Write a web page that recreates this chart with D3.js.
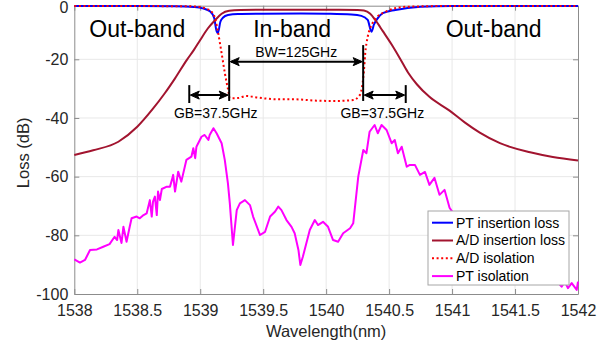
<!DOCTYPE html>
<html>
<head>
<meta charset="utf-8">
<script src="https://cdn.jsdelivr.net/npm/d3@7"></script>
<style>
  body { margin: 0; background: #fff; }
  svg { display: block; font-family: "Liberation Sans", Arial, sans-serif; }
</style>
</head>
<body>
<svg width="610" height="348"></svg>
<script>
const wavelengthTicks = [1538, 1538.5, 1539, 1539.5, 1540, 1540.5, 1541, 1541.5, 1542];
const lossTicks = [-100, -80, -60, -40, -20, 0];

// PT insertion loss
const ptInsWl = [1538.0, 1538.5, 1538.8, 1538.95, 1539.02, 1539.08, 1539.11, 1539.13, 1539.14, 1539.16,
  1539.18, 1539.22, 1539.3, 1539.5, 1539.8, 1540.0, 1540.2, 1540.28, 1540.33, 1540.36,
  1540.38, 1540.40, 1540.45, 1540.55, 1540.75, 1541.0, 1542.0];
const ptInsLoss = [-0.1, -0.1, -0.2, -0.5, -1.0, -2.2, -4.5, -9.5, -10.2, -6.0,
  -4.5, -3.5, -3.1, -3.0, -2.9, -3.0, -3.3, -3.8, -5.3, -9.7,
  -7.0, -5.3, -2.8, -1.6, -0.4, -0.1, -0.1];

// A/D insertion loss
const adInsWl = [1538.0, 1538.15, 1538.35, 1538.5, 1538.62, 1538.72, 1538.8, 1538.894, 1538.95, 1539.0,
  1539.06, 1539.12, 1539.17, 1539.23, 1539.32, 1539.5, 1539.8, 1540.1, 1540.25, 1540.3,
  1540.35, 1540.39, 1540.45, 1540.52, 1540.585, 1540.65, 1540.72, 1540.82, 1540.98, 1541.1,
  1541.22, 1541.38, 1541.62, 1541.8, 1542.0];
const adInsLoss = [-52.6, -51.0, -48.1, -43.0, -37.1, -31.5, -26.5, -20.2, -16.5, -12.8,
  -8.5, -5.3, -3.0, -1.9, -1.6, -1.5, -1.5, -1.5, -1.6, -1.8,
  -3.0, -5.3, -9.5, -14.5, -19.6, -24.5, -28.5, -32.8, -37.5, -41.5,
  -45.0, -48.6, -51.7, -53.3, -54.5];

// A/D isolation
const adIsoWl = [1538.0, 1538.9, 1539.0, 1539.05, 1539.09, 1539.12, 1539.143, 1539.17, 1539.196, 1539.222,
  1539.236, 1539.30, 1539.368, 1539.448, 1539.606, 1539.736, 1539.924, 1540.083, 1540.214, 1540.267,
  1540.29, 1540.30, 1540.31, 1540.33, 1540.355, 1540.395, 1540.475, 1540.635, 1541.0, 1542.0];
const adIsoLoss = [-0.1, -0.2, -0.5, -1.2, -2.2, -5.0, -10.3, -17.8, -24.8, -30.5,
  -33.3, -33.2, -32.5, -33.0, -33.6, -33.6, -34.1, -34.2, -33.9, -32.2,
  -28.0, -24.0, -18.0, -11.6, -7.8, -4.7, -2.2, -0.4, -0.1, -0.1];

// PT isolation
const ptIsoWl = [1538.00, 1538.045, 1538.085, 1538.125, 1538.18, 1538.23, 1538.28, 1538.32, 1538.34, 1538.35,
  1538.375, 1538.39, 1538.415, 1538.44, 1538.455, 1538.495, 1538.52, 1538.55, 1538.575, 1538.60,
  1538.615, 1538.625, 1538.64, 1538.655, 1538.665, 1538.68, 1538.695, 1538.735, 1538.76, 1538.775,
  1538.785, 1538.80, 1538.825, 1538.85, 1538.89, 1538.93, 1538.945, 1538.96, 1538.97, 1539.01,
  1539.035, 1539.065, 1539.075, 1539.105, 1539.13, 1539.17, 1539.195, 1539.22, 1539.235, 1539.26,
  1539.29, 1539.315, 1539.355, 1539.395, 1539.42, 1539.475, 1539.515, 1539.555, 1539.595, 1539.62,
  1539.645, 1539.685, 1539.725, 1539.75, 1539.78, 1539.795, 1539.815, 1539.87, 1539.91, 1539.935,
  1539.975, 1540.015, 1540.055, 1540.095, 1540.135, 1540.19, 1540.215, 1540.255, 1540.295, 1540.32,
  1540.345, 1540.385, 1540.41, 1540.44, 1540.48, 1540.52, 1540.545, 1540.57, 1540.60, 1540.64,
  1540.665, 1540.705, 1540.745, 1540.785, 1540.82, 1540.86, 1540.90, 1540.94, 1540.98, 1541.02,
  1541.1, 1541.2, 1541.3, 1541.4, 1541.5, 1541.6, 1541.7, 1541.8, 1541.85, 1541.87,
  1541.895, 1541.92, 1541.95, 1541.99, 1542.0];
const ptIsoLoss = [-88.2, -89.3, -88.4, -85.0, -84.8, -83.9, -83.0, -80.5, -81.6, -78.2,
  -82.6, -77.1, -82.2, -77.1, -74.2, -73.6, -74.2, -73.1, -72.5, -68.0,
  -73.6, -68.5, -66.8, -73.1, -65.1, -68.0, -64.2, -63.4, -63.4, -61.1,
  -59.4, -65.1, -58.3, -61.7, -54.3, -53.2, -50.3, -53.7, -49.8, -46.4,
  -45.8, -47.5, -45.8, -43.5, -45.2, -48.6, -54.3, -62.3, -69.1, -83.3,
  -71.4, -69.1, -68.0, -69.7, -73.6, -79.9, -78.8, -73.6, -71.9, -70.2,
  -71.4, -74.8, -77.1, -79.3, -85.0, -90.1, -87.3, -78.2, -74.8, -76.5,
  -75.4, -77.1, -81.6, -82.2, -79.3, -77.6, -75.9, -60.0, -50.9, -52.0,
  -44.7, -42.4, -45.2, -42.4, -44.1, -48.6, -47.5, -52.0, -49.8, -56.6,
  -56.0, -56.0, -59.4, -58.4, -62.8, -60.4, -66.2, -64.5, -70.6, -73.1,
  -76.0, -80.0, -82.0, -85.0, -88.0, -90.0, -93.0, -95.0, -96.5, -97.5,
  -95.8, -98.0, -96.3, -98.6, -95.8];

const seriesNames = ['PT insertion loss', 'A/D insertion loss', 'A/D isolation', 'PT isolation'];

// annotations (wavelength, loss)
const bandNames = ['Out-band', 'In-band', 'Out-band'];
const bandWl = [1538.5, 1539.73, 1541.33];
const bandLoss = -11.7;
const bwText = 'BW=125GHz';
const bwEdges = [1539.23, 1540.294];
const gbText = 'GB=37.5GHz';
const gbOuter = [1538.913, 1540.632];

(function(d3) {
  'use strict';

  const svg = d3.select('svg');
  const left = 74.3, right = 578, top = 5.7, bottom = 294;

  const x = d3.scaleLinear().domain([1538, 1542]).range([left, right]);
  // axis in the figure is slightly stretched below -20 dB
  const y = d3.scaleLinear().domain([-100, -20, 0]).range([bottom, 59.3, top]);

  const axisColor = '#8c8c8c';
  const textColor = '#262626';

  // grid
  const grid = svg.append('g').attr('class', 'grid');
  grid.selectAll('.gx').data(wavelengthTicks.slice(1, -1)).enter().append('line')
      .attr('x1', d => x(d)).attr('x2', d => x(d))
      .attr('y1', top).attr('y2', bottom)
      .attr('stroke', '#e8e8e8');
  grid.selectAll('.gy').data(lossTicks.slice(1, -1)).enter().append('line')
      .attr('y1', d => y(d)).attr('y2', d => y(d))
      .attr('x1', left).attr('x2', right)
      .attr('stroke', '#e8e8e8');

  const styleAxis = g => {
      g.select('.domain').attr('stroke', axisColor);
      g.selectAll('.tick line').attr('stroke', axisColor);
      g.selectAll('.tick text').attr('fill', textColor).style('font-size', '16px');
  };

  svg.append('g')
      .attr('transform', `translate(0,${bottom})`)
      .call(d3.axisBottom(x).tickValues(wavelengthTicks).tickFormat(d => String(d))
          .tickSizeInner(-5).tickSizeOuter(0).tickPadding(11))
      .call(styleAxis);
  svg.append('g')
      .attr('transform', `translate(0,${top})`)
      .call(d3.axisTop(x).tickValues(wavelengthTicks).tickFormat('')
          .tickSizeInner(-5).tickSizeOuter(0))
      .call(styleAxis);
  svg.append('g')
      .attr('transform', `translate(${left},0)`)
      .call(d3.axisLeft(y).tickValues(lossTicks).tickFormat(d => String(d))
          .tickSizeInner(-5).tickSizeOuter(0).tickPadding(6))
      .call(styleAxis)
      .selectAll('.tick text')
      .filter(d => d === 0)
      .attr('dy', '0.42em');
  svg.append('g')
      .attr('transform', `translate(${right},0)`)
      .call(d3.axisRight(y).tickValues(lossTicks).tickFormat('')
          .tickSizeInner(-5).tickSizeOuter(0))
      .call(styleAxis);
  svg.selectAll('.domain').attr('fill', 'none');

  // axis labels
  svg.append('text')
      .attr('x', (left + right) / 2).attr('y', 337)
      .attr('text-anchor', 'middle')
      .attr('fill', textColor)
      .style('font-size', '16.5px')
      .text('Wavelength(nm)');
  svg.append('text')
      .attr('transform', `translate(29,${(top + bottom) / 2 + 3}) rotate(-90)`)
      .attr('text-anchor', 'middle')
      .attr('fill', textColor)
      .style('font-size', '16.5px')
      .text('Loss (dB)');

  // curves
  const zip = (wl, loss) => wl.map((w, i) => [w, loss[i]]);
  const smooth = d3.line().x(d => x(d[0])).y(d => y(d[1])).curve(d3.curveMonotoneX);
  const rough = d3.line().x(d => x(d[0])).y(d => y(d[1]));

  const series = [
      { data: zip(ptInsWl, ptInsLoss), color: '#0000ff', dash: null, line: smooth },
      { data: zip(adInsWl, adInsLoss), color: '#a2142f', dash: null, line: smooth },
      { data: zip(adIsoWl, adIsoLoss), color: '#ff0000', dash: '2,2.6', line: smooth },
      { data: zip(ptIsoWl, ptIsoLoss), color: '#ff00ff', dash: null, line: rough }
  ];

  svg.append('g').selectAll('path').data(series).enter().append('path')
      .attr('d', d => d.line(d.data))
      .attr('fill', 'none')
      .attr('stroke', d => d.color)
      .attr('stroke-width', 2)
      .attr('stroke-dasharray', d => d.dash)
      .attr('stroke-linejoin', 'round');

  // band labels
  svg.append('g').selectAll('text').data(bandNames).enter().append('text')
      .attr('x', (d, i) => x(bandWl[i]))
      .attr('y', y(bandLoss))
      .attr('text-anchor', 'middle')
      .attr('fill', '#000')
      .style('font-size', '23px')
      .text(d => d);

  // arrows
  const ann = svg.append('g').attr('stroke', '#000').attr('stroke-width', 2);
  const head = (px, py, dir) => {
      ann.append('path')
          .attr('d', `M${px},${py} l${-9 * dir},-4 l${2 * dir},4 l${-2 * dir},4 z`)
          .attr('fill', '#000').attr('stroke-width', 1);
  };
  const dblArrow = (w1, w2, loss) => {
      const a = x(w1), b = x(w2), yy = y(loss);
      ann.append('line').attr('x1', a + 2).attr('x2', b - 2).attr('y1', yy).attr('y2', yy);
      head(a + 1, yy, -1);
      head(b - 1, yy, 1);
  };
  const vbar = (w, l1, l2) => {
      ann.append('line')
          .attr('x1', x(w)).attr('x2', x(w))
          .attr('y1', y(l1)).attr('y2', y(l2));
  };

  bwEdges.forEach(w => vbar(w, -14.7, -34.2));
  gbOuter.forEach(w => vbar(w, -28.8, -34.9));
  dblArrow(bwEdges[0], bwEdges[1], -20.8);
  dblArrow(gbOuter[0], bwEdges[0], -32.2);
  dblArrow(bwEdges[1], gbOuter[1], -32.2);

  svg.append('text')
      .attr('x', x(d3.mean(bwEdges))).attr('y', y(-19.0))
      .attr('text-anchor', 'middle')
      .style('font-size', '14px')
      .text(bwText);
  svg.append('g').selectAll('text').data([1539.123, 1540.446]).enter().append('text')
      .attr('x', d => x(d)).attr('y', y(-40.1))
      .attr('text-anchor', 'middle')
      .style('font-size', '14px')
      .text(gbText);

  // legend
  const lw = 141, lh = 74;
  const lx = right - 9 - lw, ly = bottom - 9 - lh;
  const legend = svg.append('g').attr('transform', `translate(${lx},${ly})`);
  legend.append('rect')
      .attr('width', lw).attr('height', lh)
      .attr('fill', '#fff')
      .attr('stroke', '#a6a6a6');
  const row = legend.selectAll('.row').data(series).enter().append('g')
      .attr('transform', (d, i) => `translate(0,${11.7 + i * 17.8})`);
  row.append('line')
      .attr('x1', 4).attr('x2', 25)
      .attr('stroke', d => d.color)
      .attr('stroke-width', 2)
      .attr('stroke-dasharray', d => d.dash);
  row.append('text')
      .attr('x', 28).attr('dy', '0.35em')
      .attr('fill', '#000')
      .style('font-size', '14px')
      .text((d, i) => seriesNames[i]);

}(d3));
</script>
</body>
</html>
